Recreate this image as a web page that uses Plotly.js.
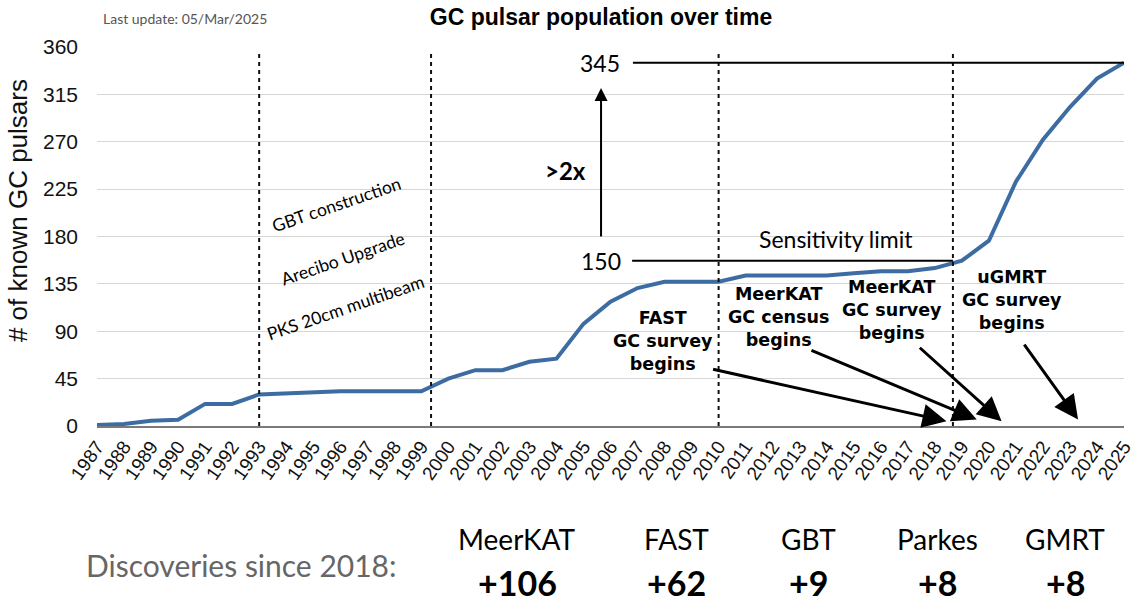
<!DOCTYPE html>
<html>
<head>
<meta charset="utf-8">
<script src="https://cdn.plot.ly/plotly-3.0.1.min.js"></script>
<style>html,body{margin:0;padding:0;background:#fff}#chart{width:1143px;height:603px}</style>
</head>
<body>
<div id="chart"></div>
<script>
// ---- data ----
const years = [1987,1988,1989,1990,1991,1992,1993,1994,1995,1996,1997,1998,1999,2000,2001,2002,2003,2004,2005,2006,2007,2008,2009,2010,2011,2012,2013,2014,2015,2016,2017,2018,2019,2020,2021,2022,2023,2024,2025];
const pulsarCounts = [1,2,5,6,21,21,30,31,32,33,33,33,33,45,53,53,61,64,97,118,131,137,137,137,143,143,143,143,145,147,147,150,157,176,232,272,303,330,345];
const yTicks = [0,45,90,135,180,225,270,315,360];
const milestoneYears = [1993, 1999.36, 2010, 2018.67];
const telescopes = ["MeerKAT","FAST","GBT","Parkes","GMRT"];
const discoveries = ["+106","+62","+9","+8","+8"];
const sensitivityLimit = 157;
const currentCount = 345;

const FONT = "Liberation Sans, Arial, sans-serif";
const GILL = "Lato, Open Sans, sans-serif";
const BOLDF = "DejaVu Sans, sans-serif";

const shapes = [];
milestoneYears.forEach(xv => shapes.push({type:'line', xref:'x', yref:'y', x0:xv, x1:xv, y0:0, y1:357,
  line:{color:'#111', width:2, dash:'4px,4px'}}));
shapes.push({type:'line', xref:'x', yref:'y', x0:2006.8, x1:2018.67, y0:sensitivityLimit, y1:sensitivityLimit, line:{color:'#000', width:2}});
shapes.push({type:'line', xref:'x', yref:'y', x0:2006.83, x1:2025, y0:currentCount, y1:currentCount, line:{color:'#000', width:2}});

const annotations = [];
function txt(text, x, y, size, opts) {
  annotations.push(Object.assign({text:text, x:x, y:y, xref:'x', yref:'y', showarrow:false,
    font:{family:GILL, size:size, color:'#000'}, xanchor:'center', yanchor:'middle'}, opts||{}));
}
// rotated milestone labels
txt('GBT construction', 1995.86, 210.5, 17.5, {textangle:-19});
txt('Arecibo Upgrade', 1996.1, 159.5, 17.5, {textangle:-19});
txt('PKS 20cm multibeam', 1996.2, 113, 17.5, {textangle:-19});
// survey labels
const bf = {font:{family:BOLDF, size:17.5, color:'#000'}};
txt('<b>FAST<br>GC survey<br>begins</b>', 2007.95, 80.5, 17.5, bf);
txt('<b>MeerKAT<br>GC census<br>begins</b>', 2012.23, 104, 17.5, bf);
txt('<b>MeerKAT<br>GC survey<br>begins</b>', 2016.43, 110, 17.5, bf);
txt('<b>uGMRT<br>GC survey<br>begins</b>', 2020.84, 119.5, 17.5, bf);
// limit labels
txt('Sensitivity limit', 2014.35, 178, 23);
txt('150', 2005.65, sensitivityLimit, 23);
txt('345', 2005.6, currentCount, 23);
txt('<b>>2x</b>', 2004.35, 243, 24);
// arrows
function arrow(tx, ty, hx, hy, w, s) {
  annotations.push({text:'', x:hx, y:hy, ax:tx, ay:ty, xref:'x', yref:'y', axref:'x', ayref:'y',
    showarrow:true, arrowhead:2, arrowsize:s, arrowwidth:w, arrowcolor:'#000'});
}
arrow(2009.74, 54.2, 2018.43, 4.5, 3, 1.6);
arrow(2013.38, 72.4, 2019.55, 6.2, 3, 1.6);
arrow(2017.39, 75.6, 2020.47, 4.5, 3, 1.6);
arrow(2021.27, 78.8, 2023.3, 6.2, 3, 1.6);
arrow(2005.65, 178.5, 2005.65, 321, 2, 1.3);

// y axis title
annotations.push({text:'# of known GC pulsars', xref:'paper', yref:'paper', x:(18-97)/1027, y:(426.5-211)/380,
  showarrow:false, textangle:-90, font:{family:FONT, size:26, color:'#111'}, xanchor:'center', yanchor:'middle'});
// header texts
annotations.push({text:'Last update: 05/Mar/2025', xref:'paper', yref:'paper', x:(185-97)/1027, y:(426.5-18)/380,
  showarrow:false, font:{family:GILL, size:14, color:'#555'}, xanchor:'center', yanchor:'middle'});
// bottom
annotations.push({text:'Discoveries since 2018:', xref:'paper', yref:'paper', x:(241-97)/1027, y:(426.5-566)/380,
  showarrow:false, font:{family:GILL, size:30, color:'#666'}, xanchor:'center', yanchor:'middle'});
const colX = [517, 676, 808, 937, 1065];
telescopes.forEach((t,i) => {
  annotations.push({text:t, xref:'paper', yref:'paper', x:(colX[i]-97)/1027, y:(426.5-540)/380,
    showarrow:false, font:{family:GILL, size:28, color:'#000'}, xanchor:'center', yanchor:'middle'});
  annotations.push({text:'<b>'+discoveries[i]+'</b>', xref:'paper', yref:'paper', x:(colX[i]-97)/1027, y:(426.5-583)/380,
    showarrow:false, font:{family:GILL, size:34, color:'#000'}, xanchor:'center', yanchor:'middle'});
});

const trace = {x:years, y:pulsarCounts, type:'scatter', mode:'lines',
  line:{color:'#3d6ca3', width:4}, hoverinfo:'x+y'};

const layout = {
  width:1143, height:603,
  margin:{l:97, r:19, t:47, b:176.5},
  paper_bgcolor:'#fff', plot_bgcolor:'#fff',
  showlegend:false,
  title:{text:'<b>GC pulsar population over time</b>', x:601/1143, xanchor:'center', y:1-17/603, yanchor:'middle',
    font:{family:FONT, size:23, color:'#000'}},
  xaxis:{range:[1987,2025], tickmode:'array', tickvals:years, ticktext:years.map(String), tickangle:-55,
    tickfont:{family:FONT, size:19, color:'#111'}, showgrid:false, zeroline:false,
    showline:true, linecolor:'#7a7a7a', linewidth:2, ticks:'', fixedrange:true},
  yaxis:{range:[0,360], tickmode:'array', tickvals:yTicks, tickfont:{family:FONT, size:21, color:'#111'},
    showgrid:true, gridcolor:'#d6d6d6', gridwidth:1, zeroline:false, showline:false, ticks:'',
    ticklabelstandoff:18},
  shapes:shapes, annotations:annotations
};
Plotly.newPlot('chart', [trace], layout, {displayModeBar:false, staticPlot:true});
</script>
</body>
</html>
